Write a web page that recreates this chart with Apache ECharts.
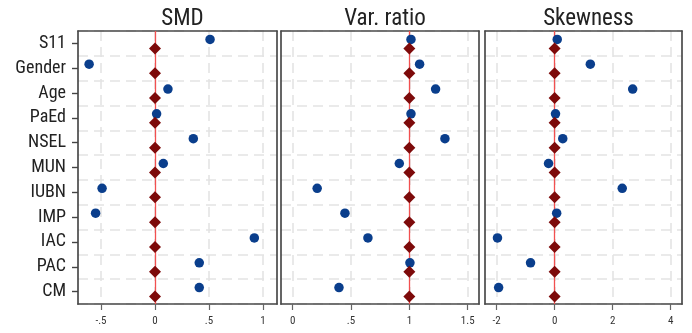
<!DOCTYPE html>
<html>
<head>
<meta charset="utf-8">
<script src="https://cdn.jsdelivr.net/npm/echarts@6/dist/echarts.min.js"></script>
<style>
html,body{margin:0;padding:0;background:#fff;}
#chart{width:692px;height:333px;}
</style>
</head>
<body>
<div id="chart"></div>
<script>
var categories = ['S11','Gender','Age','PaEd','NSEL','MUN','IUBN','IMP','IAC','PAC','CM'];
var panelTitles = ['SMD','Var. ratio','Skewness'];
// raw (blue dots)
var smdRaw = [0.51,-0.61,0.12,0.015,0.355,0.077,-0.49,-0.55,0.92,0.41,0.41];
var varRaw = [1.014,1.088,1.225,1.014,1.305,0.914,0.21,0.448,0.645,1.005,0.397];
var skewRaw = [0.09,1.23,2.69,0.03,0.28,-0.21,2.33,0.07,-1.97,-0.83,-1.93];
// weighted (red diamonds)
var smdW = [0,0,0,0,0,0,0,0,0,0,0];
var varW = [1,1,1,1,1,1,1,1,1,1,1];
var skewW = [0,0,0,0,0,0,0,0,0,0,0];
var refValues = [0, 1, 0];
var tickValues = [[-0.5,0,0.5,1],[0,0.5,1,1.5],[-2,0,2,4]];
var tickLabels = [['-.5','0','.5','1'],['0','.5','1','1.5'],['-2','0','2','4']];
var xRanges = [[-0.713,1.13],[-0.1,1.597],[-2.40,4.39]];

var FONT = "'Liberation Sans Narrow','Roboto Condensed','DejaVu Sans Condensed',sans-serif";
var chart = echarts.init(document.getElementById('chart'), null, {renderer:'canvas'});

var grids = [
  {left:78, top:31, width:199, height:273},
  {left:281, top:31, width:198, height:273},
  {left:485, top:31, width:197, height:273}
];
var BORDER = '#4a4a4a';
var gridOpts = grids.map(function(g){
  return {left:g.left, top:g.top, width:g.width, height:g.height, show:false, containLabel:false};
});
var titles = grids.map(function(g,i){
  return {text:panelTitles[i], left:g.left + g.width/2, top:3, textAlign:'center',
    textStyle:{fontFamily:FONT, fontSize:23, fontWeight:'normal', color:'#222'}};
});
var xAxes = [], yAxes = [];
grids.forEach(function(g,i){
  xAxes.push({type:'value', gridIndex:i, position:'bottom', min:xRanges[i][0], max:xRanges[i][1],
    axisLine:{show:true, onZero:false, lineStyle:{color:BORDER, width:1.7}},
    axisTick:{show:true, length:6, customValues:tickValues[i], lineStyle:{color:'#666', width:1.2}},
    axisLabel:{customValues:tickValues[i], margin:12, fontFamily:FONT, fontSize:11, color:'#333',
      formatter:function(v){ var idx = tickValues[i].indexOf(v); return idx>=0 ? tickLabels[i][idx] : ''; }},
    splitLine:{show:true, lineStyle:{color:'#e4e4e4', width:1.6, type:[10,6]}}
  });
  yAxes.push({type:'category', gridIndex:i, position:'left', data:categories, inverse:true,
    axisLine:{show:true, onZero:false, lineStyle:{color:BORDER, width:1.7}},
    axisTick:{show:i===0, alignWithLabel:true, length:6, lineStyle:{color:'#444', width:1.4}},
    axisLabel:{show:i===0, margin:12, fontFamily:FONT, fontSize:18, color:'#222'},
    splitLine:{show:true, lineStyle:{color:'#e4e4e4', width:1.6, type:[10,6]}}
  });
});
// frame axes (top / right) to close each panel box
grids.forEach(function(g,i){
  xAxes.push({type:'value', gridIndex:i, position:'top', min:xRanges[i][0], max:xRanges[i][1],
    axisLine:{show:true, onZero:false, lineStyle:{color:BORDER, width:1.7}},
    axisTick:{show:false}, axisLabel:{show:false}, splitLine:{show:false}});
  yAxes.push({type:'category', gridIndex:i, position:'right', data:categories, inverse:true,
    axisLine:{show:true, onZero:false, lineStyle:{color:BORDER, width:1.7}},
    axisTick:{show:false}, axisLabel:{show:false}, splitLine:{show:false}});
});
var raws = [smdRaw, varRaw, skewRaw];
var ws = [smdW, varW, skewW];
var series = [];
for (var i=0;i<3;i++){
  series.push({type:'scatter', xAxisIndex:i, yAxisIndex:i, data:[], z:1, silent:true,
    markLine:{silent:true, symbol:'none', label:{show:false}, z:1,
      lineStyle:{color:'#f25050', type:'solid', width:1.3, opacity:1}, data:[{xAxis:refValues[i]}]}});
  series.push({type:'scatter', xAxisIndex:i, yAxisIndex:i, z:3, symbol:'circle', symbolSize:9.5,
    symbolOffset:[0,-4], itemStyle:{color:'#0a3e8c', opacity:1},
    data:raws[i].map(function(v,k){return [v, categories[k]];})});
  series.push({type:'scatter', xAxisIndex:i, yAxisIndex:i, z:4, symbol:'diamond', symbolSize:[12,12],
    symbolOffset:[0,5], itemStyle:{color:'#7d0a0a', opacity:1},
    data:ws[i].map(function(v,k){return [v, categories[k]];})});
}
chart.setOption({
  animation:false,
  title:titles,
  grid:gridOpts,
  xAxis:xAxes,
  yAxis:yAxes,
  series:series
});
</script>
</body>
</html>
